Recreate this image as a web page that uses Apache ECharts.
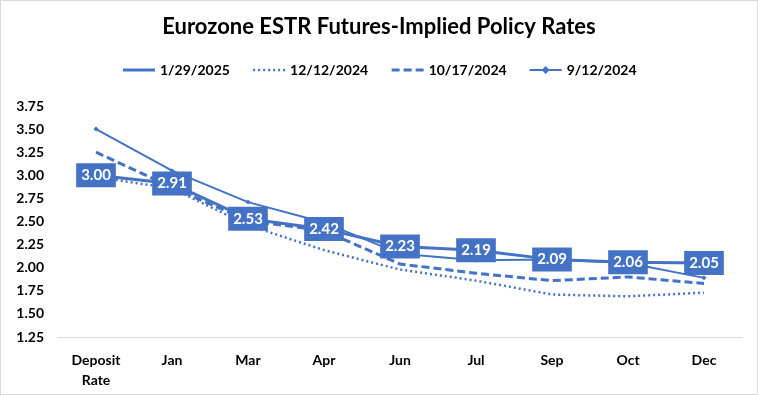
<!DOCTYPE html>
<html>
<head>
<meta charset="utf-8">
<script src="https://cdn.jsdelivr.net/npm/echarts@6/dist/echarts.min.js"></script>
<style>
html,body{margin:0;padding:0;background:#fff;}
#c{width:758px;height:395px;box-sizing:border-box;border:1px solid #D9D9D9;}
</style>
</head>
<body>
<div id="c"></div>
<script>
const categories = ['Deposit\nRate','Jan','Mar','Apr','Jun','Jul','Sep','Oct','Dec'];
const seriesNames = ['1/29/2025','12/12/2024','10/17/2024','9/12/2024'];
const s20250129 = [3.00,2.91,2.53,2.42,2.23,2.19,2.09,2.06,2.05];
const s20241212 = [2.98,2.86,2.46,2.19,1.98,1.86,1.71,1.69,1.73];
const s20241017 = [3.25,2.87,2.51,2.40,2.04,1.94,1.86,1.90,1.83];
const s20240912 = [3.50,3.05,2.71,2.49,2.15,2.08,2.09,2.05,1.89];
const yTicks = [1.25,1.50,1.75,2.00,2.25,2.50,2.75,3.00,3.25,3.50,3.75];

const blue = '#4472C4';
const FONT = 'Lato, "Open Sans", sans-serif';
const chart = echarts.init(document.getElementById('c'), null, {renderer:'canvas'});
chart.setOption({
  animation:false,
  title:{text:'Eurozone ESTR Futures-Implied Policy Rates',left:'center',top:10,
    textStyle:{fontFamily:FONT,fontWeight:'bold',fontSize:22,color:'#000'}},
  legend:{top:57,left:'center',itemWidth:32,itemHeight:10,itemGap:22,
    textStyle:{fontFamily:FONT,fontWeight:'bold',fontSize:14,color:'#000'},
    data:[
      {name:seriesNames[0],itemStyle:{opacity:0},lineStyle:{width:3}},
      {name:seriesNames[1],itemStyle:{opacity:0},lineStyle:{width:2.5}},
      {name:seriesNames[2],itemStyle:{opacity:0},lineStyle:{width:3}},
      {name:seriesNames[3],lineStyle:{width:2}}
    ]},
  grid:{left:57,right:15,top:105,bottom:57},
  xAxis:{type:'category',data:categories,boundaryGap:true,
    axisLine:{lineStyle:{color:'#D9D9D9',width:1}},axisTick:{show:false},
    axisLabel:{fontFamily:FONT,fontWeight:'bold',fontSize:14,color:'#000',margin:13,lineHeight:20,interval:0}},
  yAxis:{type:'value',min:yTicks[0],max:yTicks[yTicks.length-1],interval:0.25,
    splitLine:{show:false},axisLine:{show:false},axisTick:{show:false},
    axisLabel:{fontFamily:FONT,fontWeight:'bold',fontSize:14,color:'#000',margin:14,
      formatter:v=>v.toFixed(2)}},
  series:[
    {name:seriesNames[1],type:'line',data:s20241212,symbol:'circle',symbolSize:0,showSymbol:true,z:2,
      lineStyle:{color:blue,width:2.5,type:[2,3]},itemStyle:{color:blue}},
    {name:seriesNames[2],type:'line',data:s20241017,symbol:'circle',symbolSize:0,showSymbol:true,z:3,
      lineStyle:{color:blue,width:3,type:[8,4]},itemStyle:{color:blue}},
    {name:seriesNames[3],type:'line',data:s20240912,symbol:'diamond',symbolSize:5,z:4,
      lineStyle:{color:blue,width:2},itemStyle:{color:blue}},
    {name:seriesNames[0],type:'line',data:s20250129,symbol:'circle',symbolSize:0.1,showSymbol:true,z:5,
      lineStyle:{color:blue,width:3},itemStyle:{color:blue},
      label:{show:true,position:'inside',formatter:p=>p.value.toFixed(2),
        backgroundColor:blue,color:'#fff',fontFamily:FONT,fontWeight:'bold',fontSize:15,padding:[5,5,4,5]},
      labelLayout:{hideOverlap:false}}
  ]
});
</script>
</body>
</html>
